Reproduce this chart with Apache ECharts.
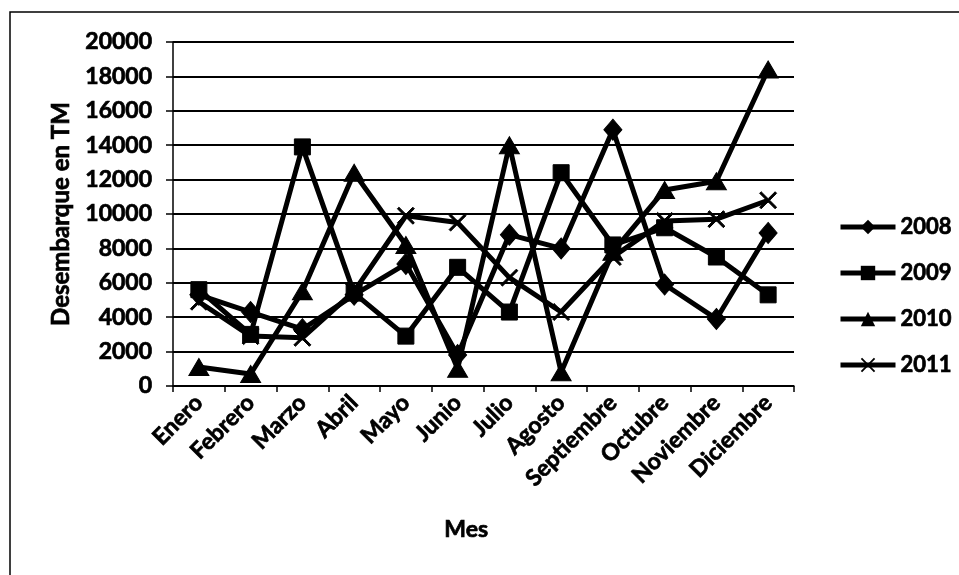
<!DOCTYPE html>
<html>
<head>
<meta charset="utf-8">
<script src="https://cdn.jsdelivr.net/npm/echarts@6/dist/echarts.min.js"></script>
<style>
html,body{margin:0;padding:0;background:#fff;}
#chart{width:959px;height:575px;}
</style>
</head>
<body>
<div id="chart"></div>
<script>
var categories = ['Enero','Febrero','Marzo','Abril','Mayo','Junio','Julio','Agosto','Septiembre','Octubre','Noviembre','Diciembre'];
var seriesNames = ['2008','2009','2010','2011'];
var values2008 = [5300, 4300, 3300, 5300, 7100, 1800, 8800, 8000, 14900, 5900, 3900, 8900];
var values2009 = [5600, 3000, 13900, 5400, 2900, 6900, 4300, 12400, 8200, 9200, 7500, 5300];
var values2010 = [1100, 700, 5500, 12400, 8200, 1000, 14000, 800, 7800, 11400, 11900, 18400];
var values2011 = [4900, 2900, 2800, 5500, 9900, 9500, 6300, 4300, 7500, 9600, 9700, 10800];
var yTicks = [0,2000,4000,6000,8000,10000,12000,14000,16000,18000,20000];

var FONT = 'Lato';
var xPath = 'path://M0,0.9L0.9,0L5,4.1L9.1,0L10,0.9L5.9,5L10,9.1L9.1,10L5,5.9L0.9,10L0,9.1L4.1,5Z';
var heavy = {textBorderColor: '#000', textBorderWidth: 0.7};

function mk(name, data, symbol, size) {
  return {
    name: name, type: 'line', data: data,
    symbol: symbol, symbolSize: size,
    lineStyle: {color: '#000', width: 5},
    itemStyle: {color: '#000', borderColor: '#000'},
    emphasis: {disabled: true},
    animation: false
  };
}

var chart = echarts.init(document.getElementById('chart'), null, {renderer: 'canvas'});
chart.setOption({
  backgroundColor: '#fff',
  animation: false,
  grid: {left: 173, right: 165, top: 42, bottom: 189, containLabel: false},
  xAxis: {
    type: 'category', data: categories, boundaryGap: true,
    axisLine: {lineStyle: {color: '#000', width: 1.5}},
    axisTick: {show: true, length: 6, lineStyle: {color: '#000', width: 1.5}, alignWithLabel: false},
    axisLabel: Object.assign({rotate: 45, margin: 13, color: '#000', fontFamily: FONT, fontWeight: 'bold', fontSize: 23, interval: 0}, heavy)
  },
  yAxis: {
    type: 'value', min: 0, max: 20000, interval: 2000,
    axisLine: {show: true, lineStyle: {color: '#000', width: 1.5}},
    axisTick: {show: true, length: 7, lineStyle: {color: '#000', width: 1.5}},
    axisLabel: Object.assign({margin: 21, color: '#000', fontFamily: FONT, fontWeight: 'bold', fontSize: 23,
      formatter: function (v) { return yTicks.indexOf(v) >= 0 ? String(v) : ''; }}, heavy),
    splitLine: {show: true, lineStyle: {color: '#000', width: 2}},
    name: 'Desembarque en TM', nameLocation: 'middle', nameGap: 100,
    nameTextStyle: Object.assign({color: '#000', fontFamily: FONT, fontWeight: 'bold', fontSize: 24}, heavy)
  },
  legend: {
    orient: 'vertical', left: 833, top: 210,
    itemWidth: 55, itemHeight: 18, itemGap: 22,
    data: seriesNames,
    lineStyle: {width: 5, color: '#000'},
    textStyle: Object.assign({color: '#000', fontFamily: FONT, fontWeight: 'bold', fontSize: 22, lineHeight: 24, padding: [0,0,0,0]}, heavy),
    selectedMode: false
  },
  graphic: [
    {type: 'rect', shape: {x: 10, y: 12, width: 1000, height: 700}, style: {fill: 'none', stroke: '#000', lineWidth: 1.5}, silent: true, z: -1},
    {type: 'text', left: 444, top: 518, style: {text: 'Mes', fill: '#000', font: 'bold 23px Lato', stroke: '#000', lineWidth: 0.7}}
  ],
  series: [
    mk('2008', values2008, 'diamond', [18, 21]),
    mk('2009', values2009, 'rect', 16),
    mk('2010', values2010, 'triangle', [20, 17]),
    mk('2011', values2011, xPath, 17)
  ]
});
</script>
</body>
</html>
